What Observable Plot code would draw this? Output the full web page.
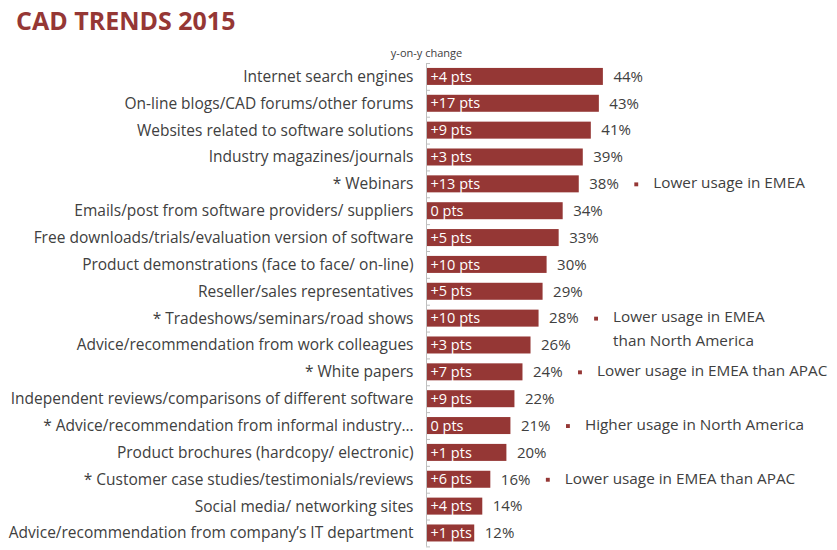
<!DOCTYPE html>
<html>
<head>
<meta charset="utf-8">
<script src="https://cdn.jsdelivr.net/npm/d3@7"></script>
<script src="https://cdn.jsdelivr.net/npm/@observablehq/plot@0.6"></script>
<style>
  html, body { margin: 0; padding: 0; background: #fff; }
  body { width: 837px; height: 550px; overflow: hidden; font-family: "Open Sans", Lato, sans-serif; }
  #title { height: 45px; box-sizing: border-box; padding: 5px 0 0 16px; font-size: 25px; line-height: 1.2; font-weight: 700; color: #953735; }
</style>
</head>
<body>
<div id="title">CAD TRENDS 2015</div>
<div id="chart"></div>
<script>
// Information sources used, share of respondents (%), with year-on-year change
const categories = [
  "Internet search engines",
  "On-line blogs/CAD forums/other forums",
  "Websites related to software solutions",
  "Industry magazines/journals",
  "* Webinars",
  "Emails/post from software providers/ suppliers",
  "Free downloads/trials/evaluation version of software",
  "Product demonstrations (face to face/ on-line)",
  "Reseller/sales representatives",
  "* Tradeshows/seminars/road shows",
  "Advice/recommendation from work colleagues",
  "* White papers",
  "Independent reviews/comparisons of different software",
  "* Advice/recommendation from informal industry…",
  "Product brochures (hardcopy/ electronic)",
  "* Customer case studies/testimonials/reviews",
  "Social media/ networking sites",
  "Advice/recommendation from company’s IT department"
];
const shares = [44, 43, 41, 39, 38, 34, 33, 30, 29, 28, 26, 24, 22, 21, 20, 16, 14, 12];
const changes = [4, 17, 9, 3, 13, 0, 5, 10, 5, 10, 3, 7, 9, 0, 1, 6, 4, 1];

// Regional remarks for the starred sources
const noteCategories = [
  "* Webinars",
  "* Tradeshows/seminars/road shows",
  "* White papers",
  "* Advice/recommendation from informal industry…",
  "* Customer case studies/testimonials/reviews"
];
const noteTexts = [
  "Lower usage in EMEA",
  "Lower usage in EMEA\nthan North America",
  "Lower usage in EMEA than APAC",
  "Higher usage in North America",
  "Lower usage in EMEA than APAC"
];
const changeHeader = "y-on-y change";

const rows = categories.map((c, i) => ({
  category: c,
  share: shares[i],
  change: (changes[i] > 0 ? "+" : "") + changes[i] + " pts"
}));
const notes = noteCategories.map((c, i) => ({
  category: c,
  share: shares[categories.indexOf(c)],
  text: noteTexts[i]
}));

const red = "#953735";
const ink = "#404040";
const axisGray = "#bfbfbf";
const font = "'Open Sans', Lato, sans-serif";

const width = 837, height = 505;
const marginTop = 18, marginBottom = 3.6;
const step = (height - marginTop - marginBottom) / categories.length;

const chart = Plot.plot({
  width, height,
  marginLeft: 426, marginRight: 9, marginTop, marginBottom,
  style: { fontFamily: font, color: ink, overflow: "visible" },
  x: { domain: [0, 100], axis: null },
  y: { domain: categories, paddingInner: 0.367, paddingOuter: 0.1835, round: false, label: null },
  marks: [
    Plot.axisY({ tickSize: 0, tickPadding: 13, fontSize: 15.5, fill: ink, label: null }),
    Plot.barX(rows, { y: "category", x: "share", fill: red }),
    Plot.ruleX([0], { stroke: axisGray, strokeWidth: 1 }),
    // small marks at the boundaries between categories
    Plot.ruleY(rows, { y: "category", x1: 0, x2: 1, dy: -step / 2, stroke: axisGray }),
    Plot.ruleY(rows.slice(-1), { y: "category", x1: 0, x2: 1, dy: step / 2, stroke: axisGray }),
    Plot.text(rows, { y: "category", x: 0, text: "change", textAnchor: "start", dx: 4, fill: "white", fontSize: 14.5 }),
    Plot.text(rows, { y: "category", x: "share", text: d => d.share + "%", textAnchor: "start", dx: 10, fill: ink, fontSize: 15 }),
    Plot.dot(notes, { y: "category", x: "share", dx: 57, symbol: "square", r: 2.2, fill: red }),
    Plot.text(notes, { y: "category", x: "share", text: "text", dx: 74, dy: -13, textAnchor: "start", lineAnchor: "top", lineHeight: 1.55, fill: ink, fontSize: 15.3 }),
    Plot.text([changeHeader], { x: 0, frameAnchor: "top", dy: -10, lineAnchor: "middle", fontSize: 11, fill: ink })
  ]
});
document.getElementById("chart").appendChild(chart);
</script>
</body>
</html>
